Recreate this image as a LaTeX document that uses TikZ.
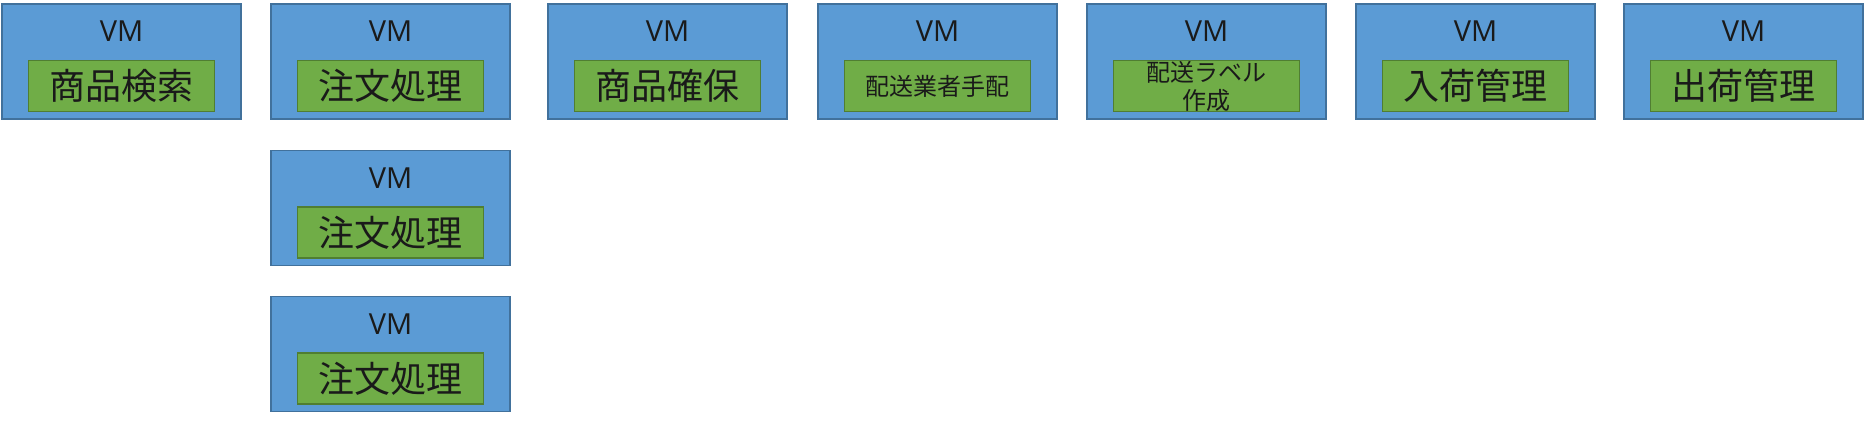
\documentclass[tikz,border=0pt]{standalone}
\usepackage{fontspec}
\setmainfont{Open Sans}
\newfontfamily\jpfont{Noto Sans CJK JP}
\usepackage{tikz}
\usetikzlibrary{calc}

\definecolor{vmblue}{HTML}{5B9BD5}
\definecolor{vmedge}{HTML}{41719C}
\definecolor{appgreen}{HTML}{70AD47}
\definecolor{appedge}{HTML}{507E32}
\definecolor{inkdark}{HTML}{1A1A1A}

\begin{document}
\begin{tikzpicture}[x=1pt,y=-1pt,
    vm/.style={draw=vmedge, fill=vmblue, line width=1.8pt, minimum width=239pt, minimum height=115pt, inner sep=0pt},
    vmlabel/.style={text=inkdark, inner sep=0pt, font=\fontsize{29}{29}\selectfont},
    app/.style={draw=appedge, fill=appgreen, line width=1.6pt, minimum width=186pt, minimum height=51pt, inner sep=0pt, text=inkdark, font=\jpfont\fontsize{36}{36}\selectfont},
    appsmall/.style={app, font=\jpfont\fontsize{24}{28}\selectfont, align=center}]

                \useasboundingbox (0,0) rectangle (1865,422);

                % top row
                \node [vm] (search) at (121.5,61.5) {};
                \node [vmlabel] (search vm) at ($(search.center)+(0,-30)$) {VM};
                \node [app] (search app) at ($(search.center)+(0,24.5)$) {商品検索};

                \node [vm] (order1) at (390.5,61.5) {};
                \node [vmlabel] (order1 vm) at ($(order1.center)+(0,-30)$) {VM};
                \node [app] (order1 app) at ($(order1.center)+(0,24.5)$) {注文処理};

                \node [vm] (reserve) at (667.5,61.5) {};
                \node [vmlabel] (reserve vm) at ($(reserve.center)+(0,-30)$) {VM};
                \node [app] (reserve app) at ($(reserve.center)+(0,24.5)$) {商品確保};

                \node [vm] (carrier) at (937.5,61.5) {};
                \node [vmlabel] (carrier vm) at ($(carrier.center)+(0,-30)$) {VM};
                \node [appsmall] (carrier app) at ($(carrier.center)+(0,24.5)$) {配送業者手配};

                \node [vm] (label) at (1206.5,61.5) {};
                \node [vmlabel] (label vm) at ($(label.center)+(0,-30)$) {VM};
                \node [appsmall] (label app) at ($(label.center)+(0,24.5)$) {配送ラベル\\作成};

                \node [vm] (inbound) at (1475.5,61.5) {};
                \node [vmlabel] (inbound vm) at ($(inbound.center)+(0,-30)$) {VM};
                \node [app] (inbound app) at ($(inbound.center)+(0,24.5)$) {入荷管理};

                \node [vm] (outbound) at (1743.5,61.5) {};
                \node [vmlabel] (outbound vm) at ($(outbound.center)+(0,-30)$) {VM};
                \node [app] (outbound app) at ($(outbound.center)+(0,24.5)$) {出荷管理};

                % scaled out order processing
                \node [vm] (order2) at (390.5,208) {};
                \node [vmlabel] (order2 vm) at ($(order2.center)+(0,-30)$) {VM};
                \node [app] (order2 app) at ($(order2.center)+(0,24.5)$) {注文処理};

                \node [vm] (order3) at (390.5,354) {};
                \node [vmlabel] (order3 vm) at ($(order3.center)+(0,-30)$) {VM};
                \node [app] (order3 app) at ($(order3.center)+(0,24.5)$) {注文処理};
            \end{tikzpicture}
\end{document}
